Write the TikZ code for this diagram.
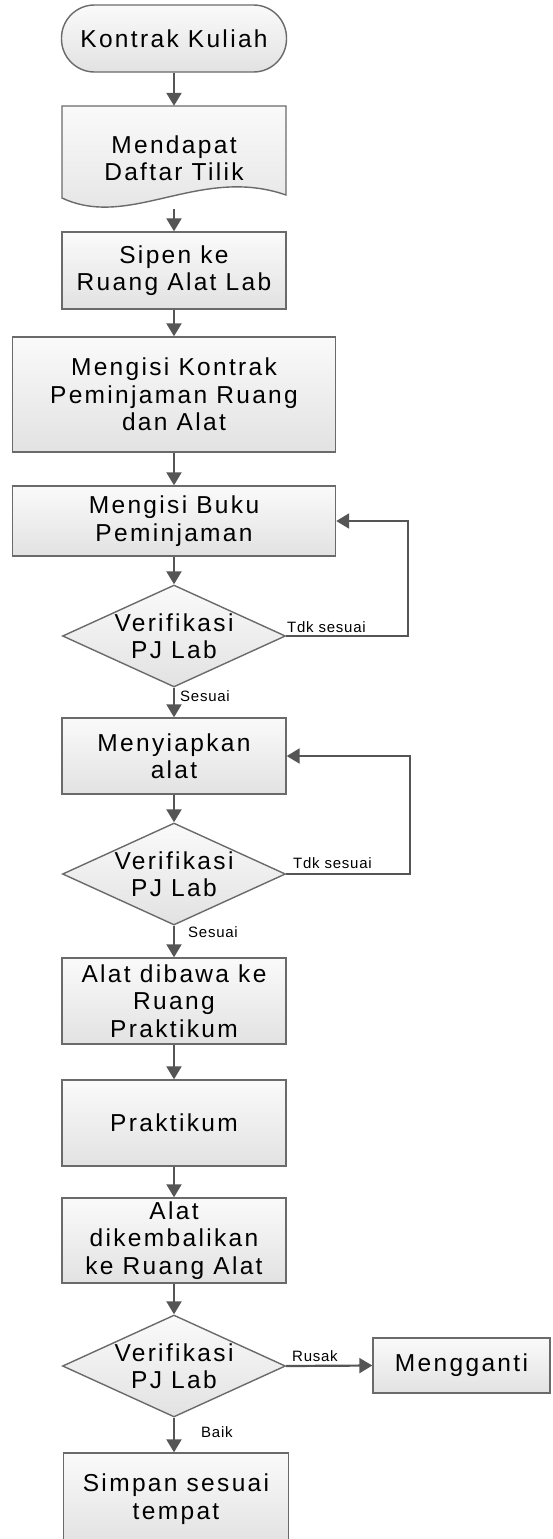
\documentclass[tikz,border=0pt]{standalone}
\usepackage{fontspec}
\setmainfont{Liberation Sans}
\newfontfamily\boxfont[LetterSpace=9.5]{Liberation Sans}
\newfontfamily\lblfont[LetterSpace=5]{Liberation Sans}
\usetikzlibrary{shapes.geometric,arrows.meta,calc}
\definecolor{edgegray}{HTML}{6A6A6A}
\definecolor{conngray}{HTML}{555555}
\definecolor{filltop}{HTML}{FAFAFA}
\definecolor{fillbot}{HTML}{E2E2E2}
\tikzset{
  shadebox/.style={draw=edgegray, line width=1.4pt, top color=filltop, bottom color=fillbot},
  boxtext/.style={align=center, inner sep=0pt, font=\boxfont\fontsize{24.5}{27.5}\selectfont},
  procbox/.style={shadebox, boxtext, rectangle},
  termbox/.style={shadebox, boxtext, rectangle, rounded corners=33pt},
  decbox/.style={shadebox, diamond, inner sep=0pt, minimum width=223pt, minimum height=102pt},
  arr/.style={draw=conngray, line width=2.2pt, -{Triangle[width=15pt,length=13pt]}},
  lbl/.style={font=\lblfont\fontsize{15}{17}\selectfont, inner sep=0pt, anchor=base west},
}
\begin{document}
\begin{tikzpicture}[x=1pt,y=-1pt]
\useasboundingbox (0,0) rectangle (552,1539);

% start terminal
\node[termbox, minimum width=225pt, minimum height=67pt] (start) at (174,38.5) {Kontrak Kuliah};

% document shape
\path[shadebox] (62,106) -- (286,106) -- (286,195)
  .. controls (200,165) and (130,230) .. (62,198) -- cycle;
\node[boxtext, minimum width=224pt, minimum height=104pt] (doc) at (174,158) {Mendapat\\Daftar Tilik};
\coordinate (docbot) at (174,209);

\node[procbox, minimum width=224pt, minimum height=77pt] (sipen) at (174,270.5) {Sipen ke\\Ruang Alat Lab};
\node[procbox, minimum width=323pt, minimum height=115pt] (kontrak) at (174,394.5) {Mengisi Kontrak\\Peminjaman Ruang\\dan Alat};
\node[procbox, minimum width=323pt, minimum height=70pt] (buku) at (174,521) {Mengisi Buku\\Peminjaman};

\node[decbox] (d1) at (174,636) {};
\node[boxtext] (d1t) at (174,636) {Verifikasi\\PJ Lab};

\node[procbox, minimum width=224pt, minimum height=76pt] (siap) at (174,756) {Menyiapkan\\alat};

\node[decbox] (d2) at (174,874) {};
\node[boxtext] (d2t) at (174,874) {Verifikasi\\PJ Lab};

\node[procbox, minimum width=224pt, minimum height=86pt] (bawa) at (174,1001) {Alat dibawa ke\\Ruang\\Praktikum};
\node[procbox, minimum width=224pt, minimum height=86pt] (prak) at (174,1123) {Praktikum};
\node[procbox, minimum width=224pt, minimum height=85pt] (kembali) at (174,1240.5) {Alat\\dikembalikan\\ke Ruang Alat};

\node[decbox] (d3) at (174,1366) {};
\node[boxtext] (d3t) at (174,1366) {Verifikasi\\PJ Lab};

\node[procbox, minimum width=177pt, minimum height=55pt] (ganti) at (461.5,1365.5) {Mengganti};
\node[procbox, minimum width=225pt, minimum height=92pt] (simpan) at (176,1499) {Simpan sesuai\\tempat};

% connectors
\draw[arr] (start.south) -- (doc.north);
\draw[arr] (docbot) -- (sipen.north);
\draw[arr] (sipen.south) -- (kontrak.north);
\draw[arr] (kontrak.south) -- (buku.north);
\draw[arr] (buku.south) -- (d1.north);
\draw[arr] (d1.south) -- (siap.north);
\draw[arr] (d1.east) -- ++(122,0) |- (buku.east);
\draw[arr] (siap.south) -- (d2.north);
\draw[arr] (d2.south) -- (bawa.north);
\draw[arr] (d2.east) -- ++(124,0) |- (siap.east);
\draw[arr] (bawa.south) -- (prak.north);
\draw[arr] (prak.south) -- (kembali.north);
\draw[arr] (kembali.south) -- (d3.north);
\draw[arr] (d3.east) -- (ganti.west);
\draw[arr] (d3.south) -- (d3.south |- simpan.north);

% labels
\node[lbl] (l1) at (287,632) {Tdk sesuai};
\node[lbl] (l2) at (180,701) {Sesuai};
\node[lbl] (l3) at (293,868) {Tdk sesuai};
\node[lbl] (l4) at (188,937) {Sesuai};
\node[lbl] (l5) at (292,1361) {Rusak};
\node[lbl] (l6) at (201,1437) {Baik};
\end{tikzpicture}
\end{document}
